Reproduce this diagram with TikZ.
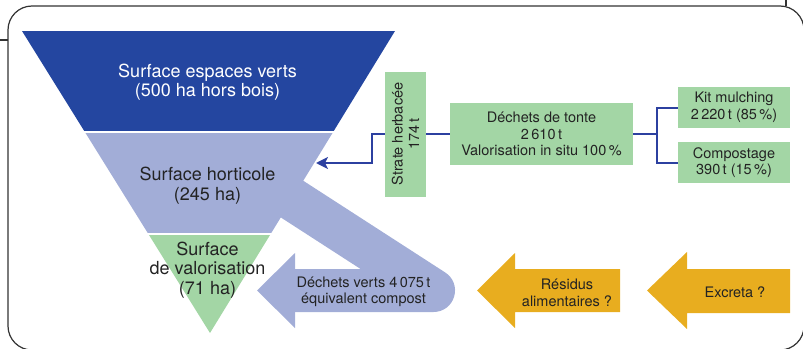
\documentclass[tikz,border=0pt]{standalone}
\usepackage{fontspec}
\setmainfont{TeX Gyre Heros}
\usepackage{tikz}
\usetikzlibrary{calc,positioning,arrows.meta}

\definecolor{darkfunnel}{RGB}{36,70,160}
\definecolor{lightfunnel}{RGB}{162,173,215}
\definecolor{softgreen}{RGB}{163,214,165}
\definecolor{amber}{RGB}{232,173,31}
\definecolor{linkblue}{RGB}{44,64,160}
\definecolor{textgray}{RGB}{35,35,35}

\begin{document}
\begin{tikzpicture}[x=1pt,y=-1pt]

	\tikzstyle{greenbox} = [rectangle, fill=softgreen, text=textgray, inner sep=0pt,
		align=center, font=\fontsize{14.5}{16.5}\selectfont]
	\tikzstyle{funneltext} = [align=center, inner sep=0pt, font=\fontsize{18}{19.5}\selectfont]
	\tikzstyle{arrowtext} = [align=center, inner sep=0pt, text=textgray,
		font=\fontsize{14.5}{16.5}\selectfont]
	\tikzstyle{link} = [draw=linkblue, line width=2pt]

	\useasboundingbox (0,0) rectangle (803,348);

	% frame
	\draw [line width=1.2pt, black!80, rounded corners=24] (8,6) rectangle (804,350);
	\draw [line width=1.2pt, black!80] (0,40) -- (8,40);
	\draw [line width=1.2pt, black!80] (786,0) -- (786,6);

	% funnel
	\begin{scope}
		\clip (22,31) -- (395,31) -- (210,333) -- cycle;
		\fill [darkfunnel] (0,31) rectangle (400,130.5);
		\fill [lightfunnel] (0,133) rectangle (400,232.5);
		\fill [softgreen] (0,235) rectangle (400,333);
	\end{scope}

	% compost flow
	\coordinate (bandstart) at (260,178.4);
	\coordinate (bandturn) at (433.5,290.5);
	\coordinate (bandback) at (294,290.5);
	\draw [lightfunnel, line width=43pt, line join=round] (bandstart) -- (bandturn) -- (bandback);
	\fill [lightfunnel] (295,253) -- (257,290.5) -- (295,328) -- cycle;

	\node [funneltext, text=white] (espaces) at (207.5,82) {Surface espaces verts\\(500 ha hors bois)};
	\node [funneltext, text=textgray] (horticole) at (207.5,185.5) {Surface horticole\\(245 ha)};
	\node [funneltext, text=textgray] (valorisation) at (207.5,270) {Surface\\de valorisation\\(71 ha)};

	% boxes
	\node [greenbox, rotate=90, minimum width=125pt, minimum height=41pt] (strate)
		at (405.5,134) {Strate herbacée\\174\,t};
	\node [greenbox, minimum width=183pt, minimum height=62pt] (tonte)
		at (541.5,134) {Déchets de tonte\\2\,610\,t\\Valorisation in situ 100\,\%};
	\node [greenbox, minimum width=112pt, minimum height=41pt] (kit)
		at (734,107.5) {Kit mulching\\2\,220\,t (85\,\%)};
	\node [greenbox, minimum width=112pt, minimum height=41pt] (compost)
		at (734,162.5) {Compostage\\390\,t (15\,\%)};

	\coordinate (hortitip) at (316,163);
	\draw [link, -{Stealth[length=12pt, width=12pt, inset=3pt]}] (strate.north) -- ++(-13,0) |- (hortitip);
	\draw [link] (strate.south) -- (tonte.west);
	\draw [link] (tonte.east) -- ++(24,0) coordinate (fork);
	\draw [link] (kit.west) -| (fork) |- (compost.west);

	% incoming flows
	\fill [amber] (477,290.5) -- (515,253) -- (515,269) -- (620,269) -- (620,312)
		-- (515,312) -- (515,328) -- cycle;
	\fill [amber] (647,290.5) -- (687,252) -- (687,269) -- (790,269) -- (790,313)
		-- (687,313) -- (687,329) -- cycle;

	\node [arrowtext] (dechetsverts) at (363.5,292) {Déchets verts 4\,075\,t\\équivalent compost};
	\node [arrowtext] (residus) at (567,293) {Résidus\\alimentaires ?};
	\node [arrowtext] (excreta) at (735,292) {Excreta ?};
\end{tikzpicture}
\end{document}
